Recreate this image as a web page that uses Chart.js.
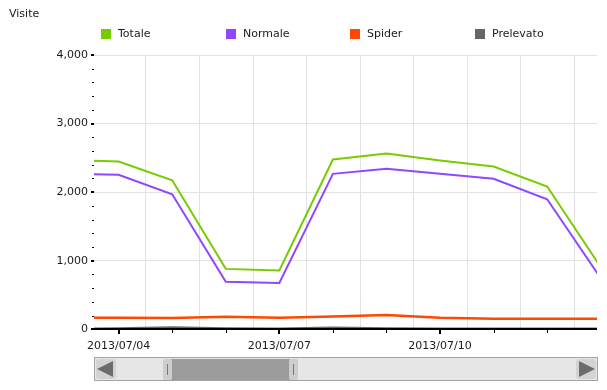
<!DOCTYPE html>
<html>
<head>
<meta charset="utf-8">
<script src="https://cdn.jsdelivr.net/npm/chart.js@4/dist/chart.umd.min.js"></script>
<style>
  html, body { margin: 0; padding: 0; background: #fff; }
</style>
</head>
<body>
<canvas id="visite" width="607" height="390"></canvas>
<script>
// dati
const giorni = ["2013/07/03", "2013/07/04", "2013/07/05", "2013/07/06", "2013/07/07", "2013/07/08",
                "2013/07/09", "2013/07/10", "2013/07/11", "2013/07/12", "2013/07/13"];
const totale    = [2472, 2447, 2172, 881, 859, 2476, 2564, 2462, 2374, 2082, 907];
const normale   = [2273, 2253, 1969, 694, 675, 2267, 2340, 2270, 2194, 1896, 744];
const spider    = [168, 167, 165, 183, 170, 185, 207, 170, 153, 155, 153];
const prelevato = [10, 15, 30, 15, 10, 25, 15, 10, 10, 10, 10];
const etichetteX = ["2013/07/04", "2013/07/07", "2013/07/10"];
const etichetteY = [0, 1000, 2000, 3000, 4000];

const giorno = g => parseInt(g.slice(8), 10);
const punti = valori => giorni.map((g, i) => ({ x: giorno(g), y: valori[i] }));

Chart.defaults.font.family = '"DejaVu Sans", Verdana, sans-serif';
Chart.defaults.font.size = 11;
Chart.defaults.color = '#1a1a1a';

const decorazioni = {
  id: 'decorazioni',
  beforeDatasetsDraw(chart) {
    const { ctx, chartArea: a, scales: { x } } = chart;
    ctx.save();
    ctx.strokeStyle = '#e2e2e2';
    ctx.lineWidth = 1;
    // griglia verticale a metà giornata
    for (let d = Math.floor(x.min) + 0.5; d < x.max; d++) {
      if (d <= x.min) continue;
      const px = Math.round(x.getPixelForValue(d)) + 0.5;
      ctx.beginPath();
      ctx.moveTo(px, a.top);
      ctx.lineTo(px, a.bottom);
      ctx.stroke();
    }
    ctx.restore();
  },
  afterDatasetsDraw(chart) {
    const { ctx, chartArea: a, scales: { x, y } } = chart;
    ctx.save();
    ctx.fillStyle = '#000';
    const base = Math.round(a.bottom);
    ctx.fillRect(a.left, base - 1, a.right - a.left, 2);
    for (let d = Math.ceil(x.min); d <= x.max; d++) {
      const px = Math.round(x.getPixelForValue(d));
      const nome = "2013/07/" + String(d).padStart(2, "0");
      if (etichetteX.includes(nome)) ctx.fillRect(px - 1, base + 1, 2, 4);
      else ctx.fillRect(px, base + 1, 1, 3);
    }
    for (let v = 0; v <= 4000; v += 200) {
      const py = Math.round(y.getPixelForValue(v));
      if (etichetteY.includes(v)) ctx.fillRect(a.left - 3, py - 1, 3, 2);
      else ctx.fillRect(a.left - 2, py, 2, 1);
    }
    ctx.restore();
  },
  afterDraw(chart) {
    const { ctx } = chart;
    ctx.save();
    ctx.font = '11px "DejaVu Sans", Verdana, sans-serif';
    ctx.textBaseline = 'middle';
    ctx.fillStyle = '#1a1a1a';
    ctx.fillText('Visite', 9, 14);
    chart.data.datasets.forEach((ds, i) => {
      const lx = Math.round(101 + i * 124.5);
      ctx.fillStyle = ds.borderColor;
      ctx.fillRect(lx, 29, 10, 10);
      ctx.fillStyle = '#1a1a1a';
      ctx.fillText(ds.label, lx + 17, 34.5);
    });

    // barra di scorrimento
    ctx.fillStyle = '#e6e6e6';
    ctx.fillRect(95, 358, 502, 22);
    ctx.strokeStyle = '#a3a3a3';
    ctx.lineWidth = 1;
    ctx.strokeRect(94.5, 357.5, 503, 23);
    ctx.fillStyle = '#d3d3d3';
    ctx.beginPath(); ctx.roundRect(96, 359, 20, 20, 3); ctx.fill();
    ctx.beginPath(); ctx.roundRect(576, 359, 20, 20, 3); ctx.fill();
    ctx.fillStyle = '#6c6c6c';
    ctx.beginPath(); ctx.moveTo(97, 369); ctx.lineTo(113, 361); ctx.lineTo(113, 377); ctx.closePath(); ctx.fill();
    ctx.beginPath(); ctx.moveTo(595, 369); ctx.lineTo(579, 361); ctx.lineTo(579, 377); ctx.closePath(); ctx.fill();
    ctx.fillStyle = '#9b9b9b';
    ctx.fillRect(171, 359, 119, 21);
    ctx.fillStyle = '#cdcdcd';
    ctx.beginPath(); ctx.roundRect(163, 359, 9, 21, 2); ctx.fill();
    ctx.beginPath(); ctx.roundRect(289, 359, 9, 21, 2); ctx.fill();
    ctx.fillStyle = '#7a7a7a';
    ctx.fillRect(167, 364, 1, 11);
    ctx.fillRect(293, 364, 1, 11);
    ctx.restore();
  }
};

new Chart(document.getElementById('visite'), {
  type: 'line',
  data: {
    datasets: [
      { label: 'Totale', data: punti(totale), borderColor: '#77cc00', borderWidth: 2 },
      { label: 'Normale', data: punti(normale), borderColor: '#8f47ff', borderWidth: 2 },
      { label: 'Spider', data: punti(spider), borderColor: '#ff4800', borderWidth: 2.5 },
      { label: 'Prelevato', data: punti(prelevato), borderColor: '#666666', borderWidth: 2 },
    ],
  },
  options: {
    responsive: false,
    animation: false,
    events: [],
    layout: { padding: { left: 50.5, right: 10, top: 55, bottom: 35.5 } },
    elements: { point: { radius: 0 }, line: { tension: 0 } },
    datasets: { line: { clip: 0 } },
    plugins: { legend: { display: false }, tooltip: { enabled: false } },
    scales: {
      x: {
        type: 'linear',
        min: 3.54,
        max: 12.93,
        grid: { display: false },
        border: { display: false },
        ticks: {
          stepSize: 1,
          includeBounds: false,
          autoSkip: false,
          maxRotation: 0,
          padding: 2,
          callback: v => {
            const nome = "2013/07/" + String(v).padStart(2, "0");
            return etichetteX.includes(nome) ? nome : '';
          },
        },
      },
      y: {
        min: 0,
        max: 4000,
        grid: { color: '#e2e2e2', drawTicks: false },
        border: { display: false },
        ticks: {
          stepSize: 1000,
          padding: 6,
          callback: v => v.toLocaleString('en-US'),
        },
      },
    },
  },
  plugins: [decorazioni],
});
</script>
</body>
</html>
